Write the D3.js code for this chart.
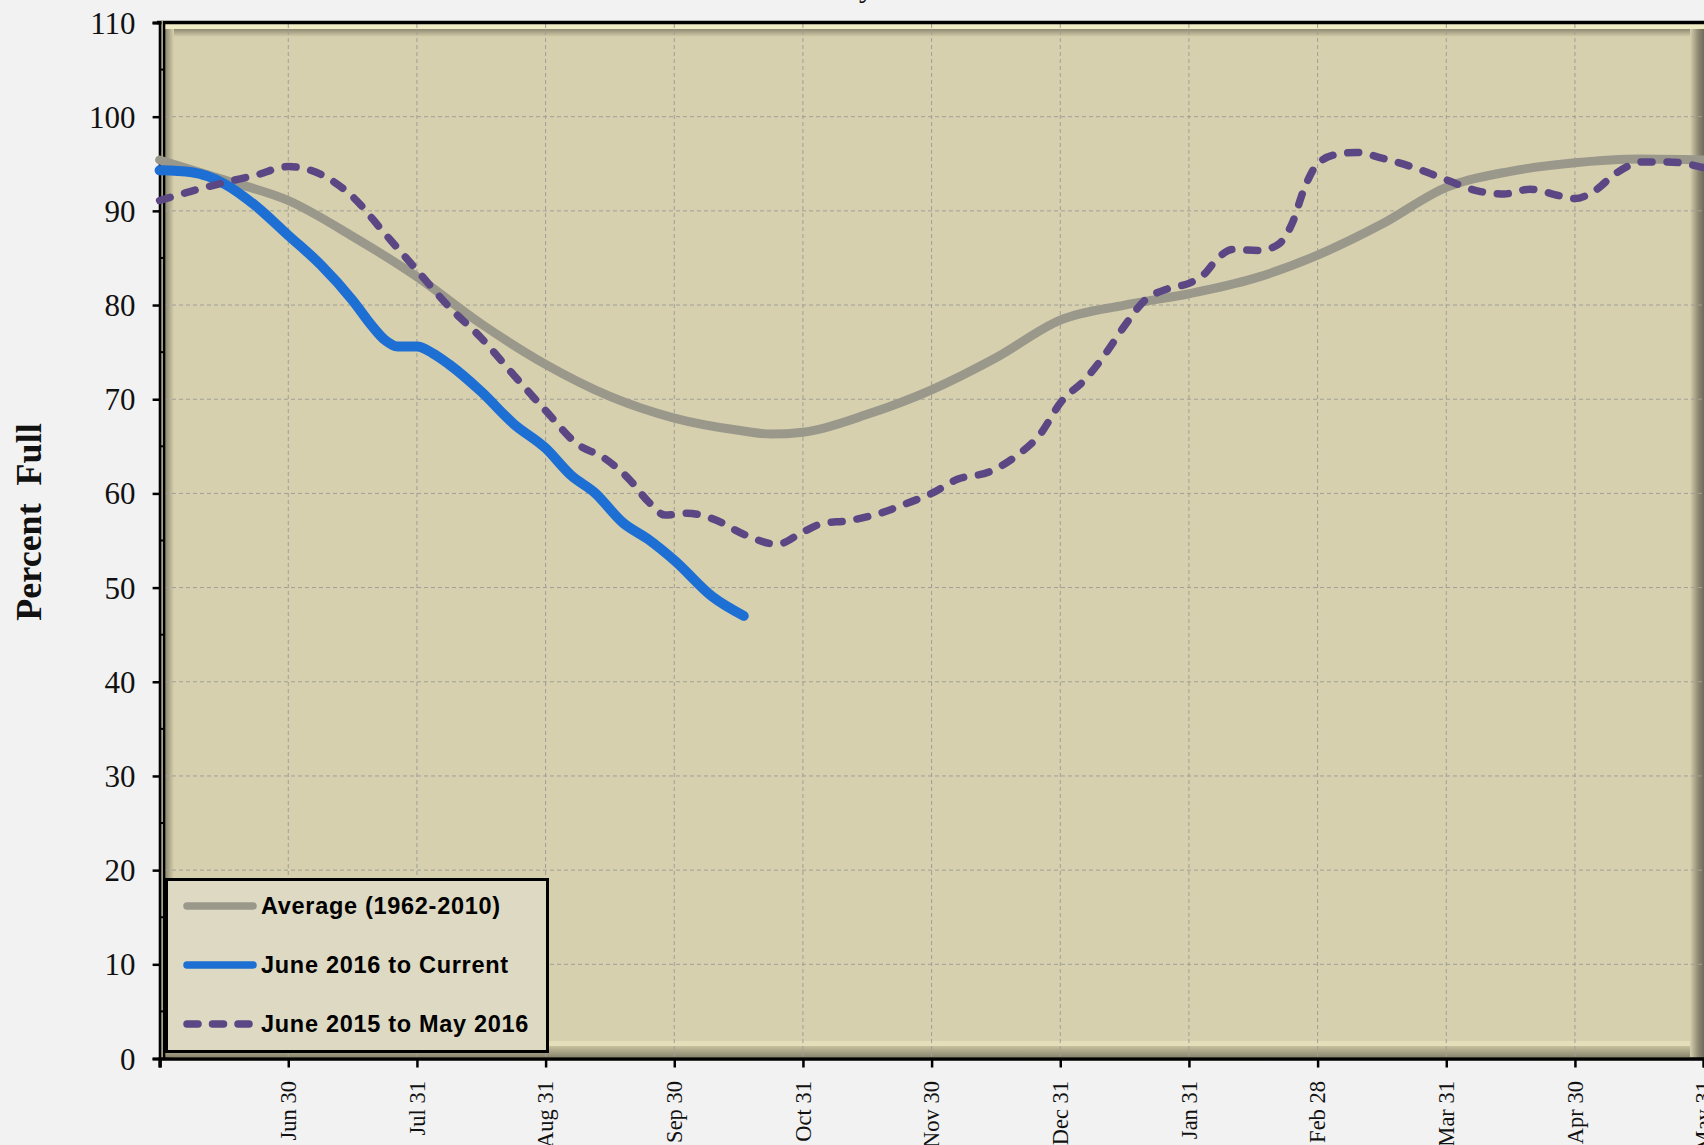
<!DOCTYPE html>
<html>
<head>
<meta charset="utf-8">
<script src="https://cdn.jsdelivr.net/npm/d3@7"></script>
<style>
  html, body { margin: 0; padding: 0; background: #F2F2F2; }
  svg { display: block; }
</style>
</head>
<body>
<svg id="chart" width="1704" height="1145"></svg>
<script>
// ---------------- DATA ----------------
// x positions are in "month units": 0 = Jun 1, 1 = Jun 30, ... 12 = May 31
const tickPos = [1, 2, 3, 4, 5, 6, 7, 8, 9, 10, 11, 12];
const tickLabels = ["Jun 30", "Jul 31", "Aug 31", "Sep 30", "Oct 31", "Nov 30",
                    "Dec 31", "Jan 31", "Feb 28", "Mar 31", "Apr 30", "May 31"];
const yTicks = [0, 10, 20, 30, 40, 50, 60, 70, 80, 90, 100, 110];

const avgX = [0, 0.5, 1, 1.5, 2, 2.5, 3, 3.5, 4, 4.5, 4.75, 5, 5.5, 6, 6.5, 7, 7.5, 8, 8.5, 9, 9.5, 10, 10.5, 11, 11.5, 12];
const avgY = [95.4, 93.3, 91.1, 87.3, 83.0, 78.0, 73.7, 70.3, 68.0, 66.7, 66.3, 66.5, 68.4, 71.0, 74.4, 78.4, 80.0, 81.2, 82.8, 85.3, 88.6, 92.5, 94.2, 95.1, 95.5, 95.4];

const curX = [0, 0.25, 0.5, 0.75, 1.0, 1.25, 1.5, 1.65, 1.75, 1.85, 2.0, 2.12, 2.25, 2.5, 2.75, 3.0, 3.2, 3.38, 3.6, 3.8, 4.0, 4.3, 4.54];
const curY = [94.3, 94.1, 92.9, 90.5, 87.4, 84.3, 80.5, 77.8, 76.3, 75.6, 75.6, 74.9, 73.7, 70.8, 67.4, 64.8, 61.9, 60.1, 56.9, 55.1, 52.9, 49.0, 47.0];

const prevX = [0, 0.25, 0.5, 0.75, 1.0, 1.25, 1.5, 1.75, 2.0, 2.25, 2.5, 2.75, 3.0, 3.25, 3.45, 3.65, 3.8, 3.93, 4.1, 4.3, 4.55, 4.8, 5.0, 5.15, 5.35, 5.6, 5.8, 6.0, 6.2, 6.45, 6.65, 6.85, 7.0, 7.2, 7.35, 7.5, 7.65, 7.85, 8.0, 8.12, 8.22, 8.34, 8.55, 8.7, 8.8, 8.9, 9.0, 9.15, 9.3, 9.5, 9.75, 10.0, 10.25, 10.45, 10.65, 10.88, 11.0, 11.15, 11.32, 11.53, 11.72, 12];
const prevY = [91.1, 92.1, 93.0, 93.8, 94.7, 93.9, 91.5, 87.6, 83.7, 79.8, 76.5, 72.6, 68.8, 65.2, 63.8, 61.5, 59.1, 57.7, 57.9, 57.3, 55.6, 54.6, 55.9, 56.8, 57.1, 57.9, 58.9, 60.0, 61.5, 62.3, 63.9, 66.4, 69.6, 72.2, 74.8, 77.8, 80.4, 81.8, 82.3, 83.3, 84.9, 85.9, 85.8, 86.5, 88.6, 92.5, 95.0, 96.0, 96.2, 95.6, 94.6, 93.3, 92.1, 91.8, 92.3, 91.6, 91.3, 92.1, 94.0, 95.2, 95.2, 94.6];

const seriesNames = ["Average (1962-2010)", "June 2016 to Current", "June 2015 to May 2016"];

// ---------------- LAYOUT ----------------
const svg = d3.select("#chart");
const axisX = 159.6, plotRight = 1704, plotTop = 22.5, plotBottom = 1058.5;
const x = d3.scaleLinear().domain([0, 12]).range([axisX, 1703.6]);
const y = d3.scaleLinear().domain([0, 110]).range([plotBottom, plotTop]);

const tan = "#D7D0AE";
const defs = svg.append("defs");
function grad(id, x1, y1, x2, y2, stops) {
  const g = defs.append("linearGradient").attr("id", id)
    .attr("x1", x1).attr("y1", y1).attr("x2", x2).attr("y2", y2);
  stops.forEach(s => g.append("stop").attr("offset", s[0]).attr("stop-color", s[1]));
}
grad("gTop", 0, 0, 0, 1, [[0, "#8E8A72"], [1, tan]]);
grad("gLeft", 0, 0, 1, 0, [[0, "#8A866E"], [1, tan]]);
grad("gBot", 0, 0, 0, 1, [[0, "#C8C19F"], [1, "#8A866F"]]);
grad("gRight", 0, 0, 1, 0, [[0, tan], [0.6, "#8C8872"], [1, "#6E6A58"]]);

// plot background and bevel
svg.append("rect").attr("x", 164).attr("y", plotTop).attr("width", plotRight - 164).attr("height", plotBottom - plotTop).attr("fill", tan);
svg.append("rect").attr("x", 164).attr("y", 24).attr("width", plotRight - 164).attr("height", 5).attr("fill", "#F1EBC5");
svg.append("rect").attr("x", 164).attr("y", 29).attr("width", plotRight - 164).attr("height", 8).attr("fill", "url(#gTop)");
svg.append("rect").attr("x", 165).attr("y", 29).attr("width", 9).attr("height", plotBottom - 29).attr("fill", "url(#gLeft)");
svg.append("rect").attr("x", 164).attr("y", 1041).attr("width", plotRight - 164).attr("height", 5).attr("fill", "#E4DEBA");
svg.append("rect").attr("x", 164).attr("y", 1046).attr("width", plotRight - 164).attr("height", 11).attr("fill", "url(#gBot)");
svg.append("rect").attr("x", 1690).attr("y", 29).attr("width", 14).attr("height", plotBottom - 29).attr("fill", "url(#gRight)");

// grid
const grid = svg.append("g").attr("stroke", "#A09E98").attr("stroke-width", 1).attr("stroke-dasharray", "4,3");
grid.selectAll("line.h").data(yTicks.filter(v => v > 0 && v < 110)).enter().append("line")
  .attr("x1", 165).attr("x2", plotRight).attr("y1", d => y(d)).attr("y2", d => y(d));
grid.selectAll("line.v").data(tickPos.filter(p => p < 12)).enter().append("line")
  .attr("x1", d => x(d)).attr("x2", d => x(d)).attr("y1", 24).attr("y2", plotBottom - 2);

// frame lines
svg.append("line").attr("x1", 157).attr("x2", plotRight).attr("y1", 22.5).attr("y2", 22.5).attr("stroke", "#000").attr("stroke-width", 3.5);
svg.append("line").attr("x1", 162.5).attr("x2", 162.5).attr("y1", 21).attr("y2", plotBottom).attr("stroke", "#F1EBC5").attr("stroke-width", 2);
svg.append("line").attr("x1", 164).attr("x2", 164).attr("y1", 21).attr("y2", plotBottom).attr("stroke", "#000").attr("stroke-width", 2.6);

// Y axis
const yAxis = d3.axisLeft(y).tickValues(yTicks).tickSize(7).tickFormat(d3.format("d"));
const gy = svg.append("g").attr("transform", `translate(${axisX},0)`).call(yAxis);
gy.select(".domain").attr("stroke", "#000").attr("stroke-width", 2.8);
gy.selectAll(".tick line").attr("stroke", "#000").attr("stroke-width", 2.5);
gy.selectAll(".tick text").attr("font-family", "'Liberation Serif', 'Times New Roman', serif")
  .attr("font-size", 31).attr("fill", "#111").attr("x", -24).attr("dy", "0.34em");
// minor ticks
const minor = d3.range(5, 110, 10);
svg.append("g").selectAll("line").data(minor).enter().append("line")
  .attr("x1", axisX).attr("x2", axisX + 5).attr("y1", d => y(d)).attr("y2", d => y(d))
  .attr("stroke", "#000").attr("stroke-width", 2);

// X axis
const xAxis = d3.axisBottom(x).tickValues([0].concat(tickPos)).tickSize(9).tickFormat(() => "");
const gx = svg.append("g").attr("transform", `translate(0,${plotBottom})`).call(xAxis);
gx.select(".domain").attr("stroke", "#000").attr("stroke-width", 3.5);
gx.selectAll(".tick line").attr("stroke", "#000").attr("stroke-width", 2.5);
svg.append("g").selectAll("text").data(tickPos).enter().append("text")
  .attr("transform", d => `translate(${x(d)},1081) rotate(-90)`)
  .attr("text-anchor", "end").attr("dy", "0.35em")
  .attr("font-family", "'Liberation Serif', 'Times New Roman', serif")
  .attr("font-size", 22.5).attr("fill", "#111")
  .text((d, i) => tickLabels[i]);

// Axis title
svg.append("text").attr("transform", "translate(41,522) rotate(-90)")
  .attr("text-anchor", "middle")
  .attr("font-family", "'Liberation Serif', 'Times New Roman', serif")
  .attr("font-weight", "bold").attr("font-size", 36).attr("fill", "#111")
  .attr("xml:space", "preserve")
  .text("Percent  Full");

// title fragment (cut off at the top)
svg.append("text").attr("x", 859).attr("y", -3)
  .attr("font-family", "'Liberation Serif', 'Times New Roman', serif")
  .attr("font-size", 30).attr("fill", "#111").text("y");

// lines
const line = d3.line().x(d => x(d[0])).y(d => y(d[1])).curve(d3.curveMonotoneX);
const avgData = avgX.map((v, i) => [v, avgY[i]]);
const curData = curX.map((v, i) => [v, curY[i]]);
const prevData = prevX.map((v, i) => [v, prevY[i]]);

svg.append("path").datum(avgData).attr("d", line).attr("fill", "none")
  .attr("stroke", "#9A988B").attr("stroke-width", 9).attr("stroke-linecap", "round").attr("stroke-linejoin", "round");
svg.append("path").datum(curData).attr("d", line).attr("fill", "none")
  .attr("stroke", "#1E6FD4").attr("stroke-width", 10).attr("stroke-linecap", "round").attr("stroke-linejoin", "round");
svg.append("path").datum(prevData).attr("d", line).attr("fill", "none")
  .attr("stroke", "#5B4784").attr("stroke-width", 7.5).attr("stroke-linecap", "round")
  .attr("stroke-dasharray", "11,15");

// legend
const lg = svg.append("g");
lg.append("rect").attr("x", 166.5).attr("y", 879.5).attr("width", 381).attr("height", 172)
  .attr("fill", "#DDD9C3").attr("stroke", "#000").attr("stroke-width", 3);
const rows = [906, 965, 1024];
const lstyles = [
  {c: "#9A988B", w: 7.5, dash: null},
  {c: "#1E6FD4", w: 7.5, dash: null},
  {c: "#5B4784", w: 7.5, dash: "11,14.5"}
];
seriesNames.forEach((name, i) => {
  const s = lstyles[i];
  const ln = lg.append("line").attr("x1", 187).attr("x2", i === 2 ? 249 : 253)
    .attr("y1", rows[i]).attr("y2", rows[i])
    .attr("stroke", s.c).attr("stroke-width", s.w).attr("stroke-linecap", "round");
  if (s.dash) ln.attr("stroke-dasharray", s.dash);
  lg.append("text").attr("x", 261).attr("y", rows[i]).attr("dy", "0.36em")
    .attr("font-family", "'Liberation Sans', Arial, sans-serif")
    .attr("font-weight", "bold").attr("font-size", 23.5).attr("letter-spacing", 0.7)
    .attr("fill", "#000").text(name);
});
</script>
</body>
</html>
